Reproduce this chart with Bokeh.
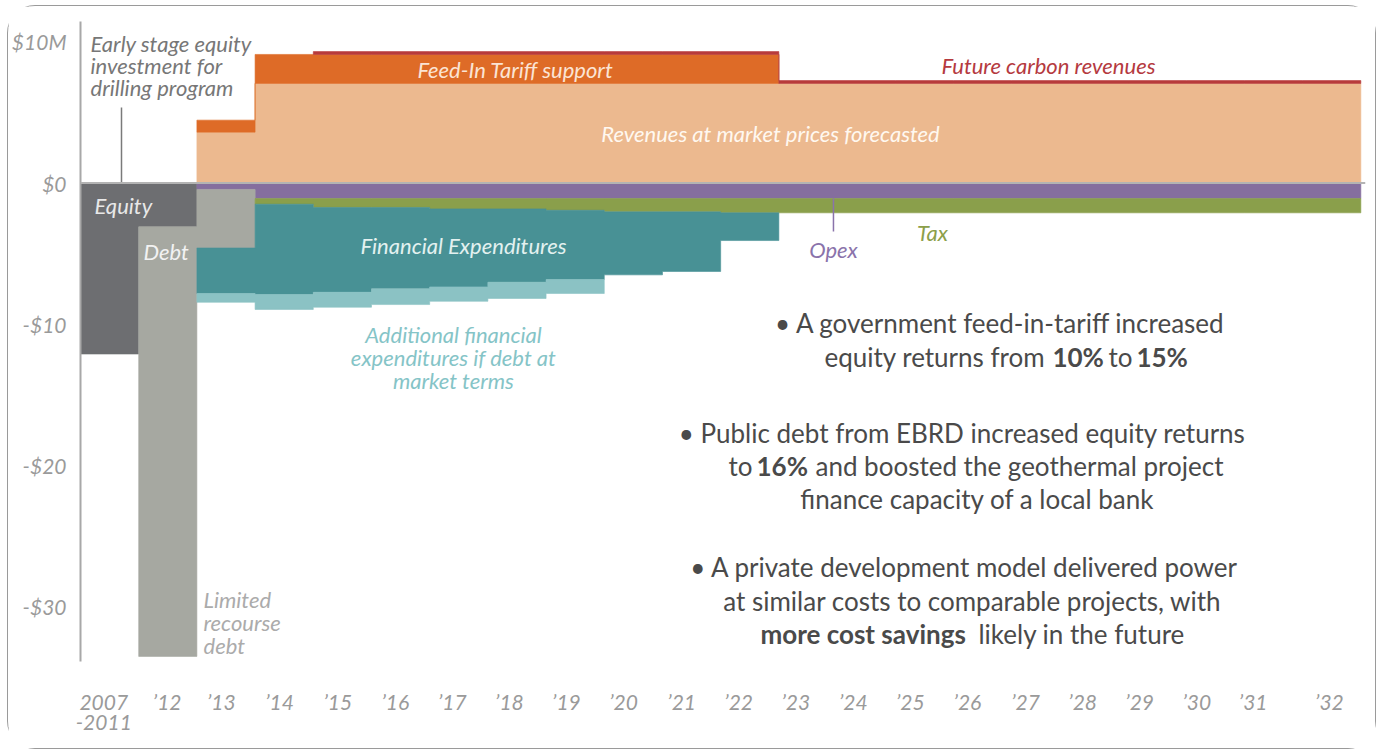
from bokeh.plotting import figure
from bokeh.models import Range1d, FixedTicker, Span, ColumnDataSource, Label, LinearAxis
from bokeh.embed import file_html
from bokeh.resources import INLINE

# ---------------- data ($M per period) ----------------
periods = ["2007"] + ["\u2019%d" % y for y in range(12, 33)]
period_line2 = ["-2011"]

# revenues (positive, stacked upward)
market = [0, 0, 3.6] + [7.05] * 19
fit = [0, 0, 0.85] + [2.05] * 9 + [0] * 10
carbon = [0, 0, 0, 0] + [0.2] * 18

# costs / financing (magnitudes, stacked downward)
equity = [12.1, 3.1] + [0] * 20
opex = [0, 0, 0.45] + [1.1] * 19
debt = [0, 30.4, 4.15] + [0] * 19
tax = [0, 0, 0, 0.4, 0.63, 0.63, 0.73, 0.73, 0.83, 0.94, 0.94, 1.01] + [1.01] * 10
fin = [0, 0, 3.22, 6.39, 6.0, 5.76, 5.52, 5.19, 4.9, 4.46, 4.22, 1.96] + [0] * 10
add_fin = [0, 0, 0.62, 1.06, 1.06, 1.11, 1.02, 1.15, 0.99] + [0] * 13

y_ticks = [10, 0, -10, -20, -30]
y_labels = ["$10M", "$0", "-$10", "-$20", "-$30"]

# ---------------- layout helpers ----------------
tick_pos = [0.40, 1.49, 2.42, 3.42, 4.42, 5.41, 6.39, 7.37, 8.35, 9.33, 10.33,
            11.31, 12.29, 13.28, 14.26, 15.24, 16.24, 17.22, 18.20, 19.18, 20.15, 21.46]


def X(px):
    return (px - 80) / 58.2


def Y(py):
    return (183.5 - py) / 14.13


FONT = "Lato"
AX = "#9a9a9a"

p = figure(frame_width=1285, frame_height=640, output_backend="svg", toolbar_location=None,
           x_range=Range1d(0, 22.08), y_range=Range1d(-33.86, 11.43),
           min_border_left=71, min_border_right=10, min_border_top=15, min_border_bottom=87)
p.styles = {"border": "1.5px solid #9a9a9a", "border-radius": "28px",
            "margin-left": "7px", "margin-top": "5px"}
p.outline_line_color = None
p.grid.visible = False
p.background_fill_color = "white"
p.border_fill_color = "white"


def stack(series, colors, sign):
    """Each series is drawn as stepped polygons stacked on the previous ones."""
    base = [0.0] * len(periods)
    for vals, col in zip(series, colors):
        bots = list(base)
        tops = [b + sign * v for b, v in zip(base, vals)]
        xs_all, ys_all = [], []
        run = []
        for i, v in enumerate(list(vals) + [0]):
            if v:
                run.append(i)
            elif run:
                xs, ys = [], []
                for k in run:
                    xs += [k, k + 1]
                    ys += [tops[k], tops[k]]
                for k in reversed(run):
                    xs += [k + 1, k]
                    ys += [bots[k], bots[k]]
                xs_all.append(xs)
                ys_all.append(ys)
                run = []
        p.patches(xs=xs_all, ys=ys_all, fill_color=col, line_color=col, line_width=0.6)
        base = tops


stack([market, fit, carbon], ["#ecb98f", "#de6b27", "#b83c3c"], 1)
stack([equity, opex, debt, tax, fin, add_fin],
      ["#6d6e71", "#856e9e", "#a6a8a1", "#8a9f4b", "#489195", "#8bc2c4"], -1)

p.add_layout(Span(location=0, dimension="width", line_color="#b3b3b3", line_width=2))


def style_x(ax, standoff):
    ax.axis_line_color = None
    ax.major_tick_line_color = None
    ax.minor_tick_line_color = None
    ax.major_label_standoff = standoff
    ax.major_label_text_font = FONT
    ax.major_label_text_font_style = "italic"
    ax.major_label_text_font_size = "21px"
    ax.major_label_text_color = AX


# axes
p.xaxis.ticker = FixedTicker(ticks=tick_pos)
p.xaxis.major_label_overrides = {t: lab for t, lab in zip(tick_pos, periods)}
style_x(p.xaxis[0], 21)

ax2 = LinearAxis(ticker=FixedTicker(ticks=tick_pos[:1]),
                 major_label_overrides={tick_pos[0]: period_line2[0]})
style_x(ax2, -8)
p.add_layout(ax2, "below")

p.yaxis.ticker = FixedTicker(ticks=y_ticks)
p.yaxis.major_label_overrides = {t: lab for t, lab in zip(y_ticks, y_labels)}
p.yaxis.axis_line_color = "#a8a8a8"
p.yaxis.axis_line_width = 2
p.yaxis.major_tick_line_color = None
p.yaxis.minor_tick_line_color = None
p.yaxis.major_label_standoff = 8
p.yaxis.major_label_text_font = FONT
p.yaxis.major_label_text_font_style = "italic"
p.yaxis.major_label_text_font_size = "21px"
p.yaxis.major_label_text_color = AX

# leader lines
p.segment(x0=[X(121), X(833)], y0=[Y(108), Y(199)], x1=[X(121), X(833)], y1=[Y(183), Y(232)],
          line_color=["#7a7a7a", "#8a73ab"], line_width=1.5)


def lab(text, px, py, color, size="22px", align="left", style="italic"):
    p.add_layout(Label(x=X(px), y=Y(py), text=text, text_font=FONT, text_font_size=size,
                       text_font_style=style, text_color=color, text_align=align,
                       text_baseline="middle"))


lab("Early stage equity", 90, 44, "#777777")
lab("investment for", 90, 66, "#777777")
lab("drilling program", 90, 88, "#777777")
lab("Equity", 94, 206, "#e8e8e8")
lab("Debt", 143, 252, "#f2f2f2")
lab("Feed-In Tariff support", 515, 70, "#fbe4d4", align="center")
lab("Revenues at market prices forecasted", 770, 134, "#fff8f0", align="center")
lab("Future carbon revenues", 1048, 66, "#b53a3f", align="center")
lab("Financial Expenditures", 463, 246, "#e3f1f0", align="center")
lab("Opex", 833, 250, "#8a73ab", align="center")
lab("Tax", 932, 233, "#8c9f4a", align="center")
lab("Additional financial", 453, 335, "#85c4c7", align="center")
lab("expenditures if debt at", 453, 358, "#85c4c7", align="center")
lab("market terms", 453, 381, "#85c4c7", align="center")
lab("Limited", 203, 600, "#ababab")
lab("recourse", 203, 623, "#ababab")
lab("debt", 203, 646, "#ababab")

TC = "#4a4a4a"
BS = "26px"


def body(text, px, py, align="left", bold=False):
    lab(text, px, py, TC, size=BS, align=align, style="bold" if bold else "normal")


body("\u2022 A government feed-in-tariff increased", 1000, 323, align="center")
body("equity returns from", 824, 357)
body("10%", 1052, 357, bold=True)
body("to", 1108, 357)
body("15%", 1136, 357, bold=True)

body("\u2022  Public debt from EBRD increased equity returns", 965, 433, align="center")
body("to", 728, 466)
body("16%", 756, 466, bold=True)
body("and boosted the geothermal project", 815, 466)
body("finance capacity of a local bank", 977, 499, align="center")

body("\u2022 A private development model delivered power", 964, 567, align="center")
body("at similar costs to comparable projects, with", 972, 601, align="center")
body("more cost savings", 760, 634, bold=True)
body("likely in the future", 978, 634)

open("out.html", "w").write(file_html(p, INLINE))
